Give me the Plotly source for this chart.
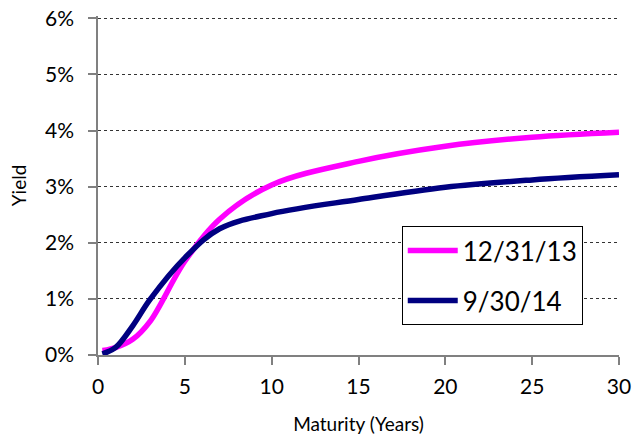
import plotly.graph_objects as go

maturity_dec13 = [0.25, 0.5, 1, 2, 3, 5, 7, 10, 15, 20, 25, 30]
yield_dec13 = [0.08, 0.09, 0.13, 0.28, 0.60, 1.67, 2.42, 3.03, 3.45, 3.72, 3.88, 3.97]
maturity_sep14 = [0.25, 1, 2, 3, 5, 7, 10, 15, 20, 25, 30]
yield_sep14 = [0.02, 0.13, 0.52, 0.99, 1.73, 2.25, 2.52, 2.77, 2.99, 3.12, 3.21]

font_name = "Lato"

fig = go.Figure()
fig.add_trace(go.Scatter(x=maturity_dec13, y=yield_dec13, name="12/31/13", mode="lines",
                         line=dict(color="#FF00FF", width=5.5, shape="spline", smoothing=1),
                         legendgroup="a"))
fig.add_trace(go.Scatter(x=maturity_sep14, y=yield_sep14, name="9/30/14", mode="lines",
                         line=dict(color="#000080", width=5.5, shape="spline", smoothing=1),
                         legendgroup="b"))

fig.update_layout(
    width=644, height=441,
    margin=dict(l=98, r=25, t=16, b=86, autoexpand=False),
    plot_bgcolor="white", paper_bgcolor="white",
    font=dict(family=font_name, size=21, color="black"),
    legend=dict(x=0.583, y=0.38, xanchor="left", yanchor="top",
                bordercolor="black", borderwidth=1, bgcolor="white",
                font=dict(size=26), tracegroupgap=13, itemwidth=50,
                entrywidth=195),
    xaxis=dict(range=[0, 30], dtick=5, showgrid=False, showline=True,
               linecolor="#808080", linewidth=2, ticks="outside", ticklen=8,
               tickcolor="#808080", tickwidth=1.5, automargin=False,
               ticklabelstandoff=4,
               title=dict(text="Maturity (Years)", font=dict(size=19), standoff=20)),
    # a little headroom so the 6% gridline is not clipped at the plot edge
    yaxis=dict(range=[0, 6.04], dtick=1, ticksuffix="%", showgrid=True,
               gridcolor="#333333", griddash="dot", gridwidth=1,
               showline=True, linecolor="#808080", linewidth=1.5,
               ticks="outside", ticklen=8, tickcolor="#808080", tickwidth=1.5,
               zeroline=False, automargin=False, ticklabelstandoff=10,
               title=dict(text="Yield", font=dict(size=19), standoff=13)),
)

# drop the page's default body margin so the figure sits at the window corner
fig.write_html("out.html", config={"displayModeBar": False},
               post_script="document.body.style.margin = '0';")
